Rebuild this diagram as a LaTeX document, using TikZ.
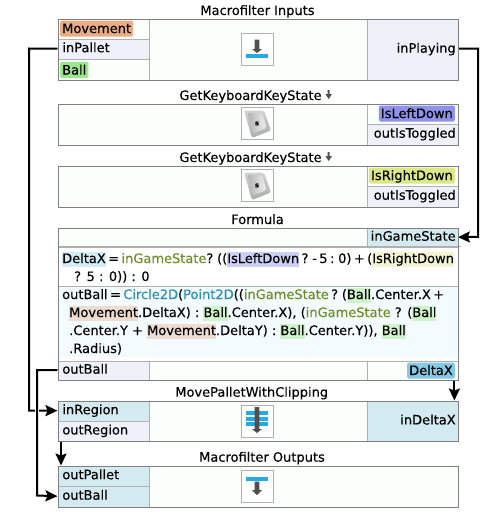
\documentclass[tikz,border=0pt]{standalone}
\usepackage{fontspec}
\setmainfont{DejaVu Sans}[FakeBold=0.25]
\usepackage{xcolor}
\usetikzlibrary{positioning,arrows.meta,backgrounds}
\definecolor{edge}{RGB}{128,128,128}
\definecolor{rule}{RGB}{176,176,176}
\definecolor{plain}{RGB}{251,255,251}
\definecolor{outcell}{RGB}{238,241,250}
\definecolor{incell}{RGB}{211,234,240}
\definecolor{code}{RGB}{243,251,255}
\definecolor{tagmove}{RGB}{232,173,135}
\definecolor{tagball}{RGB}{156,231,141}
\definecolor{tagleft}{RGB}{143,146,235}
\definecolor{tagright}{RGB}{220,232,135}
\definecolor{tagdelta}{RGB}{135,201,228}
\definecolor{softmove}{RGB}{237,220,208}
\definecolor{softball}{RGB}{207,243,203}
\definecolor{softleft}{RGB}{205,208,245}
\definecolor{softright}{RGB}{241,246,208}
\definecolor{softdelta}{RGB}{211,237,246}
\definecolor{state}{RGB}{107,142,35}
\definecolor{func}{RGB}{42,143,176}
\definecolor{iconblue}{RGB}{38,170,226}
\definecolor{icondark}{RGB}{80,80,80}
\newcommand{\hilite}[2]{{\setlength{\fboxsep}{0pt}\colorbox{#1}{\rule[-4pt]{0pt}{15pt}#2}}}
\newcommand{\statetxt}{\textcolor{state}{inGameState}}
\newcommand{\downglyph}[3]{\fill[icondark] (254.7,#1) -- (259.3,#1) -- (259.3,#2) -- (262,#2) -- (257,#3) -- (252,#2) -- (254.7,#2) -- cycle;}
\newcommand{\titleglyph}[1]{\fill[icondark] (327.7,#1) -- (329.7,#1) -- (329.7,#1+4) -- (332,#1+4) -- (328.7,#1+9) -- (325.4,#1+4) -- (327.7,#1+4) -- cycle;}
\newcommand{\keyglyph}[2]{\shade[top color=gray!35, bottom color=gray!65, rounded corners=2pt] (244,#1-13) -- (264,#1-13) -- (271,#1+7) -- (252,#1+14.5) -- cycle;
\shade[left color=gray!60, right color=gray!12, rounded corners=2pt] (247.5,#1-10.5) -- (262,#1-10.5) -- (266.5,#1+4.5) -- (253,#1+10) -- cycle;
\node[font=\fontsize{7}{8}\selectfont\bfseries, text=black, inner sep=0] (#2) at (257,#1) {s};}

\begin{document}
\begin{tikzpicture}[
x=1pt, y=-1pt,
every node/.style={font=\fontsize{13}{15}\selectfont},
cell/.style={anchor=north west, draw=rule, inner sep=0, minimum height=#1, text height=10pt, text depth=3pt},
lcell/.style={cell=#1, minimum width=91pt, text width=86pt, align=left},
mcell/.style={cell=#1, minimum width=218pt, fill=plain},
rcell/.style={cell=#1, minimum width=91pt, text width=87pt, align=right},
frame/.style={anchor=north west, draw=edge, inner sep=0, minimum width=400pt, minimum height=#1},
title/.style={anchor=base, inner sep=0},
tag/.style={fill=#1, rounded corners=1.5pt, inner xsep=2pt, inner ysep=0, text height=12.5pt, text depth=3.5pt},
line/.style={anchor=base west, inner sep=0},
iconbox/.style={draw=rule, fill=white, inner sep=0, minimum width=32pt, minimum height=32pt},
arrow/.style={-{Stealth[length=12pt,width=11pt,inset=2pt]}, line width=2pt, draw=black}
]
\useasboundingbox (0,0) rectangle (500,512);
% inputs
\node[title] (inputsT) at (257.5,15) {Macrofilter Inputs};
\node[lcell=20pt, fill=plain] (movementC) at (57.5,18.5) {};
\node[lcell=20pt, fill=outcell] (inPallet) at (57.5,38.5) {\,inPallet};
\node[lcell=21pt, fill=plain] (ballC) at (57.5,58.5) {};
\node[mcell=61pt] (inputsM) at (148.5,18.5) {};
\node[rcell=61pt, fill=outcell] (inPlaying) at (366.5,18.5) {inPlaying};
\node[frame=61pt] (inputs) at (57.5,18.5) {};
\node[tag=tagmove, anchor=west] (movement) at (60,28.5) {Movement};
\node[tag=tagball, anchor=west] (ball) at (60,70) {Ball};
\node[iconbox] (inputsI) at (257,49) {};
\downglyph{39.7}{49}{53}
\fill[iconblue] (246,54) rectangle (268,58);
% left key
\node[title] (leftT) at (250.5,100) {GetKeyboardKeyState};
\titleglyph{90}
\node[cell=41pt, minimum width=309pt, fill=plain] (leftM) at (57.5,103.5) {};
\node[rcell=20pt, fill=plain] (isLeftC) at (366.5,103.5) {};
\node[rcell=21pt, fill=outcell] (leftOut) at (366.5,123.5) {outIsToggled};
\node[frame=41pt] (leftF) at (57.5,103.5) {};
\node[tag=tagleft, anchor=east] (isLeft) at (455,113.5) {IsLeftDown};
\node[iconbox] (leftI) at (257,123.5) {};
\keyglyph{123.5}{leftS}
% right key
\node[title] (rightT) at (250.5,162) {GetKeyboardKeyState};
\titleglyph{152}
\node[cell=41pt, minimum width=309pt, fill=plain] (rightM) at (57.5,165.5) {};
\node[rcell=20pt, fill=plain] (isRightC) at (366.5,165.5) {};
\node[rcell=21pt, fill=outcell] (rightOut) at (366.5,185.5) {outIsToggled};
\node[frame=41pt] (rightF) at (57.5,165.5) {};
\node[tag=tagright, anchor=east] (isRight) at (455,175.5) {IsRightDown};
\node[iconbox] (rightI) at (257,185.5) {};
\keyglyph{185.5}{rightS}
% formula
\node[title] (formulaT) at (257.5,224) {Formula};
\node[cell=19pt, minimum width=309pt, fill=plain] (formulaTop) at (57.5,227.5) {};
\node[rcell=19pt, fill=incell] (inGameState) at (366.5,227.5) {inGameState};
\fill[code] (58,286) rectangle (457,357);
\draw[rule] (57.5,246.5) -- (461,246.5);
\draw[rule] (57.5,286) -- (457.5,286);
\node[lcell=19pt, fill=outcell] (outBallF) at (57.5,360.5) {\,outBall};
\node[mcell=19pt] (formulaBot) at (148.5,360.5) {};
\node[rcell=19pt, fill=plain] (deltaC) at (366.5,360.5) {};
\node[frame=152pt] (formula) at (57.5,227.5) {};
\node[tag=tagdelta, anchor=east] (delta) at (455,370.5) {DeltaX};
\node[line] (lineA) at (62,263) {\spaceskip=2.4pt \hilite{softdelta}{DeltaX} = \statetxt? ((\hilite{softleft}{IsLeftDown} ? - 5 : 0) + (\hilite{softright}{IsRightDown}};
\node[line] (lineB) at (74,281) {? 5 : 0)) : 0};
\node[line] (lineC) at (62,299) {\spaceskip=2.4pt outBall = \textcolor{func}{Circle2D}(\textcolor{func}{Point2D}((\statetxt{} ? (\hilite{softball}{Ball}.Center.X +};
\node[line] (lineD) at (69,317) {\hilite{softmove}{Movement}.DeltaX) : \hilite{softball}{Ball}.Center.X), (\statetxt{} ? (\hilite{softball}{Ball}};
\node[line] (lineE) at (69,335) {.Center.Y + \hilite{softmove}{Movement}.DeltaY) : \hilite{softball}{Ball}.Center.Y)), \hilite{softball}{Ball}};
\node[line] (lineF) at (69,353) {.Radius)};
% clipping
\node[title] (moveT) at (251.7,396.7) {MovePalletWithClipping};
\node[lcell=20pt, fill=incell] (inRegion) at (57.5,400.5) {\,inRegion};
\node[lcell=20.5pt, fill=outcell] (outRegion) at (57.5,420.5) {\,outRegion};
\node[mcell=40.5pt] (moveM) at (148.5,400.5) {};
\node[rcell=40.5pt, fill=incell] (inDeltaX) at (366.5,400.5) {inDeltaX};
\node[frame=40.5pt] (moveF) at (57.5,400.5) {};
\node[iconbox] (moveI) at (257,421) {};
\fill[iconblue] (246,411) rectangle (268,415);
\fill[iconblue] (246,416.7) rectangle (268,420.7);
\fill[iconblue] (246,422.3) rectangle (268,426.3);
\downglyph{407}{429}{433}
% outputs
\node[title] (outputsT) at (262,461.7) {Macrofilter Outputs};
\node[lcell=20pt, fill=incell] (outPallet) at (57.5,465.5) {\,outPallet};
\node[lcell=21pt, fill=incell] (outBall) at (57.5,485.5) {\,outBall};
\node[cell=41pt, minimum width=309pt, fill=plain] (outputsM) at (148.5,465.5) {};
\node[frame=41pt] (outputsF) at (57.5,465.5) {};
\node[iconbox] (outputsI) at (257,486) {};
\fill[iconblue] (246,477.3) rectangle (268,481.3);
\downglyph{481.7}{490}{495}
% connections
\begin{scope}[on background layer]
\coordinate (leftA) at (29,48.5);
\coordinate (leftB) at (29,410.5);
\coordinate (rightA) at (478,48.5);
\coordinate (rightB) at (478,236.8);
\coordinate (ballA) at (37,370);
\coordinate (ballB) at (37,495.5);
\draw[arrow] (inPallet.west) -- (leftA) -- (leftB) -- (inRegion.west);
\draw[arrow] (inPlaying.east |- leftA) -- (rightA) -- (rightB) -- (inGameState.east);
\draw[line width=4pt, draw=white] (37,406) -- (37,415);
\draw[arrow] (outBallF.west) -- (ballA) -- (ballB) -- (outBall.west);
\draw[arrow] ([xshift=3.5pt]outRegion.south west) -- ([xshift=3.5pt]outPallet.north west);
\draw[arrow] ([xshift=-3.5pt]deltaC.south east) -- ([xshift=-3.5pt]inDeltaX.north east);
\end{scope}
\end{tikzpicture}
\end{document}
